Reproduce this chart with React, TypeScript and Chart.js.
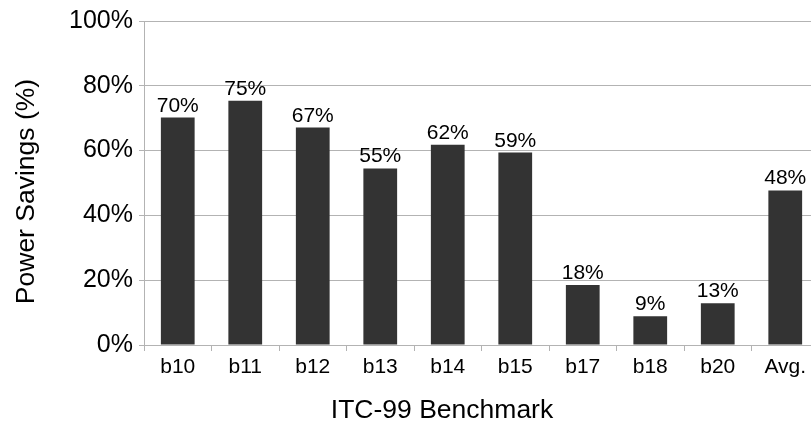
import React, { useEffect, useRef } from "react";
import { Chart, registerables } from "chart.js";

Chart.register(...registerables);

const categories = ["b10", "b11", "b12", "b13", "b14", "b15", "b17", "b18", "b20", "Avg."];
const savings = [70.2, 75.4, 67.1, 54.5, 61.8, 59.4, 18.5, 8.9, 12.9, 47.7];
const savingLabels = ["70%", "75%", "67%", "55%", "62%", "59%", "18%", "9%", "13%", "48%"];
const yTicks = [0, 20, 40, 60, 80, 100];
const xTitle = "ITC-99 Benchmark";
const yTitle = "Power Savings (%)";

const FONT = "'Liberation Sans', Arial, sans-serif";

const labelPlugin = {
  id: "barLabels",
  afterDatasetsDraw(chart: any) {
    const ctx = chart.ctx;
    const meta = chart.getDatasetMeta(0);
    ctx.save();
    ctx.font = `21px ${FONT}`;
    ctx.fillStyle = "#000";
    ctx.textAlign = "center";
    ctx.textBaseline = "alphabetic";
    meta.data.forEach((bar: any, i: number) => {
      ctx.fillText(savingLabels[i], bar.x, bar.y - 6);
    });
    ctx.restore();
  },
};

const titlePlugin = {
  id: "axisTitles",
  afterDraw(chart: any) {
    const ctx = chart.ctx;
    ctx.save();
    ctx.font = `26.5px ${FONT}`;
    ctx.fillStyle = "#000";
    ctx.textAlign = "center";
    ctx.textBaseline = "middle";
    ctx.fillText(xTitle, 442, 411);
    ctx.translate(27, 191.5);
    ctx.rotate(-Math.PI / 2);
    ctx.fillText(yTitle, 0, 0);
    ctx.restore();
  },
};

export default function App() {
  const ref = useRef<HTMLCanvasElement>(null);
  useEffect(() => {
    document.body.style.margin = "0";
    const chart = new Chart(ref.current!, {
      type: "bar",
      data: {
        labels: categories,
        datasets: [
          {
            data: savings,
            backgroundColor: "#333333",
            barPercentage: 0.5,
            categoryPercentage: 1,
          },
        ],
      },
      plugins: [labelPlugin, titlePlugin],
      options: {
        animation: false,
        responsive: false,
        devicePixelRatio: 1,
        layout: { padding: 0 },
        plugins: { legend: { display: false }, tooltip: { enabled: false } },
        scales: {
          x: {
            offset: true,
            grid: {
              offset: true,
              drawOnChartArea: false,
              drawTicks: true,
              tickLength: 6,
              color: "#b3b3b3",
            },
            border: { color: "#b3b3b3" },
            ticks: { color: "#000", font: { family: FONT, size: 21 }, padding: 4, maxRotation: 0 },
            afterFit: (s: any) => {
              s.height = 83;
            },
          },
          y: {
            min: 0,
            max: 100,
            afterBuildTicks: (s: any) => {
              s.ticks = yTicks.map((v) => ({ value: v }));
            },
            grid: { color: "#b3b3b3", tickLength: 5, drawTicks: true },
            border: { color: "#b3b3b3" },
            ticks: {
              color: "#000",
              font: { family: FONT, size: 25 },
              padding: 6,
              callback: (v: any) => v + "%",
            },
            afterFit: (s: any) => {
              s.width = 144;
            },
          },
        },
      },
    });
    return () => chart.destroy();
  }, []);
  return (
    <div style={{ position: "fixed", left: 0, top: 0, width: 819, height: 428, background: "#fff" }}>
      <canvas ref={ref} width={819} height={428} style={{ width: 819, height: 428 }} />
    </div>
  );
}
